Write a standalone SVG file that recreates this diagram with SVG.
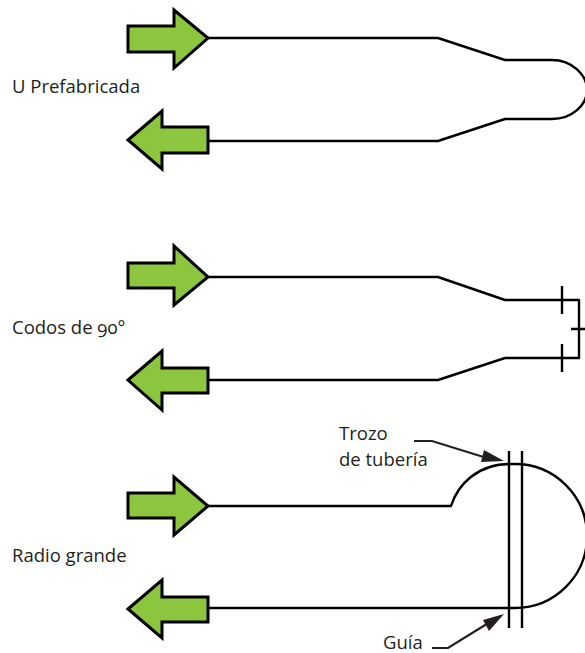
<svg xmlns="http://www.w3.org/2000/svg" width="585" height="653" viewBox="0 0 585 653">
<style>
.a{fill:#8cc63f;stroke:#000;stroke-width:3;stroke-linejoin:miter;stroke-miterlimit:8}
.p{fill:none;stroke:#000;stroke-width:2.4;stroke-linejoin:round}
.t{font-family:"Open Sans","Noto Sans",sans-serif;font-size:18.5px;font-variant-numeric:oldstyle-nums;fill:#231f20}
.l{fill:none;stroke:#231f20;stroke-width:2.2}
.h{fill:#231f20}
</style>
<rect width="585" height="653" fill="#fff"/>
<g id="connectors">
<path class="p" d="M208 38H438L505 60H552C572 60 587 75 587 90C587 105 572 119 552 119H505L438 141H208"/>
<path class="p" d="M208 277H438L505 300H579V358H505L438 380H208"/>
<path class="p" d="M562 286V314M562 344V372M571 329H585"/>
<path class="p" d="M208 506H451C458 484 478 464 510 464H515A72 72 0 0 1 515 608H208"/>
<path class="p" d="M509 451V628M522 451V628"/>
<path class="l" d="M414 441H432L490 459"/>
<path class="h" d="M504 461L481 462L484 450Z"/>
<path class="l" d="M432 648H448L490 622"/>
<path class="h" d="M504 614L489 631L483 620Z"/>
</g>
<g id="arrow1"><path class="a" d="M128 26H174V10L208 38L174 68V52H128Z"/></g>
<g id="arrow2"><path class="a" d="M128 140L162 111V127H208V153H162V169Z"/></g>
<g id="arrow3"><path class="a" d="M128 263H174V246L208 277L174 305V288H128Z"/></g>
<g id="arrow4"><path class="a" d="M128 380L162 351V368H208V393H162V410Z"/></g>
<g id="arrow5"><path class="a" d="M128 493H174V477L208 506L174 535V518H128Z"/></g>
<g id="arrow6"><path class="a" d="M128 609L162 580V597H208V622H162V638Z"/></g>
<g id="labels">
<text class="t" x="12" y="93">U Prefabricada</text>
<text class="t" x="12" y="334">Codos de 90°</text>
<text class="t" x="12" y="562">Radio grande</text>
<text class="t" x="339" y="440">Trozo</text>
<text class="t" x="339" y="466">de tubería</text>
<text class="t" x="383" y="649">Guía</text>
</g>
</svg>
